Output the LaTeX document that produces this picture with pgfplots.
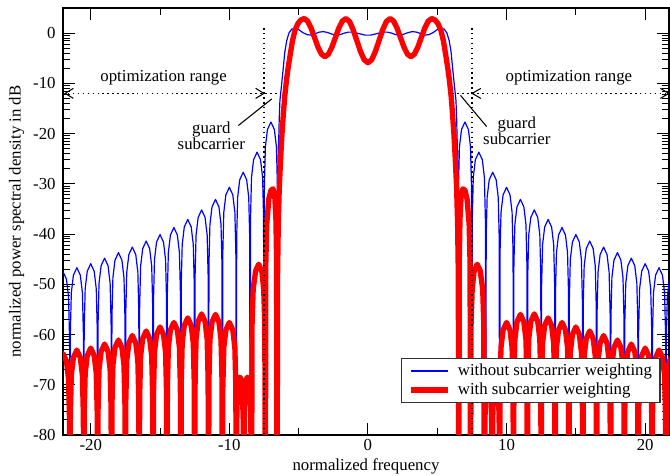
\documentclass[border=0pt]{standalone}
\usepackage{pgfplots}
\pgfplotsset{compat=1.18}
\usepackage{fontspec}
\setmainfont{Liberation Serif}
\begin{document}
\begin{tikzpicture}
\begin{axis}[
  scale only axis, width=454.5pt, height=320.25pt,
  xmin=-22, xmax=21.72, ymin=-80, ymax=5,
  font=\fontsize{12.6}{15}\selectfont,
  axis line style={line width=0.9pt},
  tick align=inside, major tick length=9pt, minor tick length=5pt,
  every tick/.style={black, line width=0.7pt},
  xtick={-20,-10,0,10,20}, xticklabels={-20,-10,0,10,20},
  minor xtick={-15,-5,5,15},
  ytick={-80,-70,...,0}, yticklabels={-80,-70,-60,-50,-40,-30,-20,-10,0},
  minor ytick={-0.46,-0.97,-1.55,-2.22,-3.01,-3.98,-5.23,-6.99,
    -10.46,-10.97,-11.55,-12.22,-13.01,-13.98,-15.23,-16.99,
    -20.46,-20.97,-21.55,-22.22,-23.01,-23.98,-25.23,-26.99,
    -30.46,-30.97,-31.55,-32.22,-33.01,-33.98,-35.23,-36.99,
    -40.46,-40.97,-41.55,-42.22,-43.01,-43.98,-45.23,-46.99,
    -50.46,-50.97,-51.55,-52.22,-53.01,-53.98,-55.23,-56.99,
    -60.46,-60.97,-61.55,-62.22,-63.01,-63.98,-65.23,-66.99,
    -70.46,-70.97,-71.55,-72.22,-73.01,-73.98,-75.23,-76.99},
  yticklabel style={xshift=-2pt},
  xlabel={normalized frequency},
  ylabel={normalized power spectral density in dB},
  xlabel style={at={(axis description cs:0.5,-0.0742)}, anchor=center},
  ylabel style={at={(axis description cs:-0.0764,0.5)}, anchor=center},
  legend style={at={(0.986,0.0756)}, anchor=south east, draw=black!80,
    line width=0.8pt, fill=white, font=\fontsize{12.6}{15}\selectfont,
    inner xsep=4pt, inner ysep=2pt, row sep=0pt, cells={anchor=west}},
  legend image code/.code={\path (-1pt,0pt); \draw[#1] (0pt,0pt) -- (27.5pt,0pt); \path (31pt,0pt);},
]
% without weighting
\addplot[blue, line width=0.9pt, line join=round] coordinates {
(-22.25,-49) (-22,-47.5) (-21.75,-49) (-21.6,-52.5) (-21.53,-60.5) (-21.5,-70)
(-21.47,-59.7) (-21.4,-51.7) (-21.25,-48.2) (-21,-46.7) (-20.75,-48.2) (-20.6,-51.7) (-20.53,-59.7) (-20.5,-75)
(-20.47,-58.9) (-20.4,-50.9) (-20.25,-47.4) (-20,-45.9) (-19.75,-47.4) (-19.6,-50.9) (-19.53,-58.9) (-19.5,-100)
(-19.47,-57.8) (-19.4,-49.8) (-19.25,-46.3) (-19,-44.8) (-18.75,-46.3) (-18.6,-49.8) (-18.53,-57.8) (-18.5,-100)
(-18.47,-56.7) (-18.4,-48.7) (-18.25,-45.2) (-18,-43.7) (-17.75,-45.2) (-17.6,-48.7) (-17.53,-56.7) (-17.5,-100)
(-17.47,-55.6) (-17.4,-47.6) (-17.25,-44.1) (-17,-42.6) (-16.75,-44.1) (-16.6,-47.6) (-16.53,-55.6) (-16.5,-100)
(-16.47,-54.4) (-16.4,-46.4) (-16.25,-42.9) (-16,-41.4) (-15.75,-42.9) (-15.6,-46.4) (-15.53,-54.4) (-15.5,-100)
(-15.47,-53.1) (-15.4,-45.1) (-15.25,-41.6) (-15,-40.1) (-14.75,-41.6) (-14.6,-45.1) (-14.53,-53.1) (-14.5,-100)
(-14.47,-51.7) (-14.4,-43.7) (-14.25,-40.2) (-14,-38.7) (-13.75,-40.2) (-13.6,-43.7) (-13.53,-51.7) (-13.5,-100)
(-13.47,-50.1) (-13.4,-42.1) (-13.25,-38.6) (-13,-37.1) (-12.75,-38.6) (-12.6,-42.1) (-12.53,-50.1) (-12.5,-100)
(-12.47,-48.2) (-12.4,-40.2) (-12.25,-36.7) (-12,-35.2) (-11.75,-36.7) (-11.6,-40.2) (-11.53,-48.2) (-11.5,-100)
(-11.47,-46.1) (-11.4,-38.1) (-11.25,-34.6) (-11,-33.1) (-10.75,-34.6) (-10.6,-38.1) (-10.53,-46.1) (-10.5,-100)
(-10.47,-43.7) (-10.4,-35.7) (-10.25,-32.2) (-10,-30.7) (-9.75,-32.2) (-9.6,-35.7) (-9.53,-43.7) (-9.5,-100)
(-9.47,-40.7) (-9.4,-32.7) (-9.25,-29.2) (-9,-27.7) (-8.75,-29.2) (-8.6,-32.7) (-8.53,-40.7) (-8.5,-100)
(-8.47,-36.7) (-8.4,-28.7) (-8.25,-25.2) (-8,-23.7) (-7.75,-25.2) (-7.6,-28.7) (-7.53,-36.7) (-7.5,-100)
(-7.47,-30.7) (-7.4,-22.7) (-7.25,-19.2) (-7,-17.7) (-6.75,-19.2) (-6.6,-22.7) (-6.53,-30.7) (-6.5,-100)
(-6.46,-24) (-6.4,-17) (-6.35,-13.4) (-6.22,-10) (-6.1,-6.7) (-6,-3.8) (-5.86,-1.5) (-5.7,0) (-5.5,0.8) (-5.3,0.9)
(-5,0.7) (-4.7,0.1) (-4.4,-0.3) (-4.1,-0.4) (-3.8,-0.1) (-3.5,0.2) (-3.2,0.3) (-2.9,0.1) (-2.6,-0.2) (-2.3,-0.4)
(-2,-0.3) (-1.7,0) (-1.4,0.2) (-1.1,0.2) (-0.8,0) (-0.5,-0.2) (-0.2,-0.4) (0,-0.4)
(0.2,-0.4) (0.5,-0.2) (0.8,0) (1.1,0.2) (1.4,0.2) (1.7,0) (2,-0.3) (2.3,-0.4) (2.6,-0.2) (2.9,0.1)
(3.2,0.3) (3.5,0.2) (3.8,-0.1) (4.1,-0.4) (4.4,-0.3) (4.7,0.1) (5,0.7) (5.3,0.9) (5.5,0.8) (5.7,0)
(5.86,-1.5) (6,-3.8) (6.1,-6.7) (6.22,-10) (6.35,-13.4) (6.4,-17) (6.46,-24) (6.5,-100)
(6.53,-30.7) (6.6,-22.7) (6.75,-19.2) (7,-17.7) (7.25,-19.2) (7.4,-22.7) (7.47,-30.7) (7.5,-100)
(7.53,-36.7) (7.6,-28.7) (7.75,-25.2) (8,-23.7) (8.25,-25.2) (8.4,-28.7) (8.47,-36.7) (8.5,-100)
(8.53,-40.7) (8.6,-32.7) (8.75,-29.2) (9,-27.7) (9.25,-29.2) (9.4,-32.7) (9.47,-40.7) (9.5,-100)
(9.53,-43.7) (9.6,-35.7) (9.75,-32.2) (10,-30.7) (10.25,-32.2) (10.4,-35.7) (10.47,-43.7) (10.5,-100)
(10.53,-46.1) (10.6,-38.1) (10.75,-34.6) (11,-33.1) (11.25,-34.6) (11.4,-38.1) (11.47,-46.1) (11.5,-100)
(11.53,-48.2) (11.6,-40.2) (11.75,-36.7) (12,-35.2) (12.25,-36.7) (12.4,-40.2) (12.47,-48.2) (12.5,-100)
(12.53,-50.1) (12.6,-42.1) (12.75,-38.6) (13,-37.1) (13.25,-38.6) (13.4,-42.1) (13.47,-50.1) (13.5,-100)
(13.53,-51.7) (13.6,-43.7) (13.75,-40.2) (14,-38.7) (14.25,-40.2) (14.4,-43.7) (14.47,-51.7) (14.5,-100)
(14.53,-53.1) (14.6,-45.1) (14.75,-41.6) (15,-40.1) (15.25,-41.6) (15.4,-45.1) (15.47,-53.1) (15.5,-100)
(15.53,-54.4) (15.6,-46.4) (15.75,-42.9) (16,-41.4) (16.25,-42.9) (16.4,-46.4) (16.47,-54.4) (16.5,-100)
(16.53,-55.6) (16.6,-47.6) (16.75,-44.1) (17,-42.6) (17.25,-44.1) (17.4,-47.6) (17.47,-55.6) (17.5,-100)
(17.53,-56.7) (17.6,-48.7) (17.75,-45.2) (18,-43.7) (18.25,-45.2) (18.4,-48.7) (18.47,-56.7) (18.5,-100)
(18.53,-57.8) (18.6,-49.8) (18.75,-46.3) (19,-44.8) (19.25,-46.3) (19.4,-49.8) (19.47,-57.8) (19.5,-100)
(19.53,-58.9) (19.6,-50.9) (19.75,-47.4) (20,-45.9) (20.25,-47.4) (20.4,-50.9) (20.47,-58.9) (20.5,-75)
(20.53,-59.7) (20.6,-51.7) (20.75,-48.2) (21,-46.7) (21.25,-48.2) (21.4,-51.7) (21.47,-59.7) (21.5,-70)
(21.53,-60.5) (21.6,-52.5) (21.75,-49) (22,-47.5)
};
\addlegendentry{without subcarrier weighting}
% with weighting
\addplot[red, line width=4pt, line join=round] coordinates {
(-22.25,-65.3) (-22,-63.8) (-21.75,-65.3) (-21.6,-68.8) (-21.53,-76.8) (-21.5,-100)
(-21.47,-76.1) (-21.4,-68.1) (-21.25,-64.6) (-21,-63.1) (-20.75,-64.6) (-20.6,-68.1) (-20.53,-76.1) (-20.5,-100)
(-20.47,-75.7) (-20.4,-67.7) (-20.25,-64.2) (-20,-62.7) (-19.75,-64.2) (-19.6,-67.7) (-19.53,-75.7) (-19.5,-100)
(-19.47,-74.9) (-19.4,-66.9) (-19.25,-63.4) (-19,-61.9) (-18.75,-63.4) (-18.6,-66.9) (-18.53,-74.9) (-18.5,-100)
(-18.47,-74.1) (-18.4,-66.1) (-18.25,-62.6) (-18,-61.1) (-17.75,-62.6) (-17.6,-66.1) (-17.53,-74.1) (-17.5,-100)
(-17.47,-73.2) (-17.4,-65.2) (-17.25,-61.7) (-17,-60.2) (-16.75,-61.7) (-16.6,-65.2) (-16.53,-73.2) (-16.5,-100)
(-16.47,-72.3) (-16.4,-64.3) (-16.25,-60.8) (-16,-59.3) (-15.75,-60.8) (-15.6,-64.3) (-15.53,-72.3) (-15.5,-100)
(-15.47,-71.5) (-15.4,-63.5) (-15.25,-60) (-15,-58.5) (-14.75,-60) (-14.6,-63.5) (-14.53,-71.5) (-14.5,-100)
(-14.47,-70.6) (-14.4,-62.6) (-14.25,-59.1) (-14,-57.6) (-13.75,-59.1) (-13.6,-62.6) (-13.53,-70.6) (-13.5,-100)
(-13.47,-69.7) (-13.4,-61.7) (-13.25,-58.2) (-13,-56.7) (-12.75,-58.2) (-12.6,-61.7) (-12.53,-69.7) (-12.5,-100)
(-12.47,-68.9) (-12.4,-60.9) (-12.25,-57.4) (-12,-55.9) (-11.75,-57.4) (-11.6,-60.9) (-11.53,-68.9) (-11.5,-100)
(-11.47,-69) (-11.4,-61) (-11.25,-57.5) (-11,-56) (-10.75,-57.5) (-10.6,-61) (-10.53,-69) (-10.5,-100)
(-10.47,-70.6) (-10.4,-62.6) (-10.25,-59.1) (-10,-57.6) (-9.75,-59.1) (-9.6,-62.6) (-9.53,-70.6) (-9.5,-100)
(-9.47,-78) (-9.43,-72.5) (-9.35,-69.3) (-9.25,-68.5) (-9.15,-68.8) (-9.06,-71) (-9,-77) (-8.96,-100)
(-8.93,-78) (-8.88,-72) (-8.8,-69.2) (-8.7,-68.5) (-8.62,-68.8) (-8.52,-71) (-8.45,-76) (-8.4,-100)
(-8.36,-58) (-8.28,-51) (-8.1,-47.3) (-7.88,-46) (-7.65,-47.5) (-7.52,-51) (-7.44,-58) (-7.4,-100)
(-7.37,-46) (-7.3,-38) (-7.15,-33) (-7,-31.3) (-6.85,-31) (-6.72,-32.5) (-6.64,-37) (-6.59,-45) (-6.56,-100)
(-6.52,-48) (-6.47,-38) (-6.4,-31) (-6.3,-25) (-6.2,-20) (-6.1,-16) (-6,-12.5) (-5.86,-9) (-5.75,-6.8) (-5.62,-4.5)
(-5.45,-1.6) (-5.26,0.6) (-5.05,1.9) (-4.85,2.6) (-4.6,2.9) (-4.35,2.39) (-4.1,1) (-3.85,-0.9) (-3.6,-2.8) (-3.35,-4.19)
(-3.1,-4.7) (-2.85,-4.19) (-2.6,-2.8) (-2.35,-0.9) (-2.1,1) (-1.85,2.39) (-1.6,2.9) (-1.33,2.31) (-1.07,0.7) (-0.8,-1.5)
(-0.53,-3.7) (-0.27,-5.31) (0,-5.9)
(0.27,-5.31) (0.53,-3.7) (0.8,-1.5) (1.07,0.7) (1.33,2.31) (1.6,2.9) (1.85,2.39) (2.1,1) (2.35,-0.9) (2.6,-2.8)
(2.85,-4.19) (3.1,-4.7) (3.35,-4.19) (3.6,-2.8) (3.85,-0.9) (4.1,1) (4.35,2.39) (4.6,2.9) (4.85,2.6) (5.05,1.9)
(5.26,0.6) (5.45,-1.6) (5.62,-4.5) (5.75,-6.8) (5.86,-9) (6,-12.5) (6.1,-16) (6.2,-20) (6.3,-25) (6.4,-31)
(6.47,-38) (6.52,-48) (6.56,-100)
(6.59,-45) (6.64,-37) (6.72,-32.5) (6.85,-31) (7,-31.3) (7.15,-33) (7.3,-38) (7.37,-46) (7.4,-100)
(7.44,-58) (7.52,-51) (7.65,-47.5) (7.88,-46) (8.1,-47.3) (8.28,-51) (8.36,-58) (8.4,-100)
(8.45,-76) (8.52,-71) (8.62,-68.8) (8.7,-68.5) (8.8,-69.2) (8.88,-72) (8.93,-78) (8.96,-100)
(9,-77) (9.06,-71) (9.15,-68.8) (9.25,-68.5) (9.35,-69.3) (9.43,-72.5) (9.47,-78) (9.5,-100)
(9.53,-70.6) (9.6,-62.6) (9.75,-59.1) (10,-57.6) (10.25,-59.1) (10.4,-62.6) (10.47,-70.6) (10.5,-100)
(10.53,-69) (10.6,-61) (10.75,-57.5) (11,-56) (11.25,-57.5) (11.4,-61) (11.47,-69) (11.5,-100)
(11.53,-68.9) (11.6,-60.9) (11.75,-57.4) (12,-55.9) (12.25,-57.4) (12.4,-60.9) (12.47,-68.9) (12.5,-100)
(12.53,-69.7) (12.6,-61.7) (12.75,-58.2) (13,-56.7) (13.25,-58.2) (13.4,-61.7) (13.47,-69.7) (13.5,-100)
(13.53,-70.6) (13.6,-62.6) (13.75,-59.1) (14,-57.6) (14.25,-59.1) (14.4,-62.6) (14.47,-70.6) (14.5,-100)
(14.53,-71.5) (14.6,-63.5) (14.75,-60) (15,-58.5) (15.25,-60) (15.4,-63.5) (15.47,-71.5) (15.5,-100)
(15.53,-72.3) (15.6,-64.3) (15.75,-60.8) (16,-59.3) (16.25,-60.8) (16.4,-64.3) (16.47,-72.3) (16.5,-100)
(16.53,-73.2) (16.6,-65.2) (16.75,-61.7) (17,-60.2) (17.25,-61.7) (17.4,-65.2) (17.47,-73.2) (17.5,-100)
(17.53,-74.1) (17.6,-66.1) (17.75,-62.6) (18,-61.1) (18.25,-62.6) (18.4,-66.1) (18.47,-74.1) (18.5,-100)
(18.53,-74.9) (18.6,-66.9) (18.75,-63.4) (19,-61.9) (19.25,-63.4) (19.4,-66.9) (19.47,-74.9) (19.5,-100)
(19.53,-75.7) (19.6,-67.7) (19.75,-64.2) (20,-62.7) (20.25,-64.2) (20.4,-67.7) (20.47,-75.7) (20.5,-100)
(20.53,-76.1) (20.6,-68.1) (20.75,-64.6) (21,-63.1) (21.25,-64.6) (21.4,-68.1) (21.47,-76.1) (21.5,-100)
(21.53,-76.8) (21.6,-68.8) (21.75,-65.3) (22,-63.8)
};
\addlegendentry{with subcarrier weighting}
% guard subcarrier marks and optimization range
\draw[line width=1.1pt, dash pattern=on 1.1pt off 2.6pt] (axis cs:-7.5,1) -- (axis cs:-7.5,-80);
\draw[line width=1.1pt, dash pattern=on 1.1pt off 2.6pt] (axis cs:7.5,1) -- (axis cs:7.5,-80);
\draw[line width=1.1pt, dash pattern=on 1.1pt off 2.6pt] (axis cs:-22,-12) -- (axis cs:-6.35,-12);
\draw[line width=1.1pt, dash pattern=on 1.1pt off 2.6pt] (axis cs:6.1,-12) -- (axis cs:21.72,-12);
\draw[line width=0.8pt] (axis cs:-21.25,-11) -- (axis cs:-21.85,-12) -- (axis cs:-21.25,-13);
\draw[line width=0.8pt] (axis cs:-8.1,-11) -- (axis cs:-7.5,-12) -- (axis cs:-8.1,-13);
\draw[line width=0.8pt] (axis cs:8.15,-11) -- (axis cs:7.52,-12) -- (axis cs:8.15,-13);
\draw[line width=0.8pt] (axis cs:21.1,-11) -- (axis cs:21.7,-12) -- (axis cs:21.1,-13);
\node at (axis cs:-14.74,-8.8) {optimization range};
\node at (axis cs:14.5,-8.8) {optimization range};
\node[align=center, font=\fontsize{12.6}{12}\selectfont] at (axis cs:-11.3,-20.4) {guard\\subcarrier};
\node[align=center, font=\fontsize{12.6}{12}\selectfont] at (axis cs:10.74,-19.4) {guard\\subcarrier};
\draw[line width=0.8pt] (axis cs:-9.35,-18.4) -- (axis cs:-6.94,-13.1);
\draw[line width=0.8pt] (axis cs:6.68,-12.4) -- (axis cs:8.56,-18.6);
\end{axis}
\pgfresetboundingbox
\useasboundingbox ([shift={(-47.25pt,-30.75pt)}]current axis.south west) rectangle ([shift={(0.75pt,6pt)}]current axis.north east);
\end{tikzpicture}
\end{document}
